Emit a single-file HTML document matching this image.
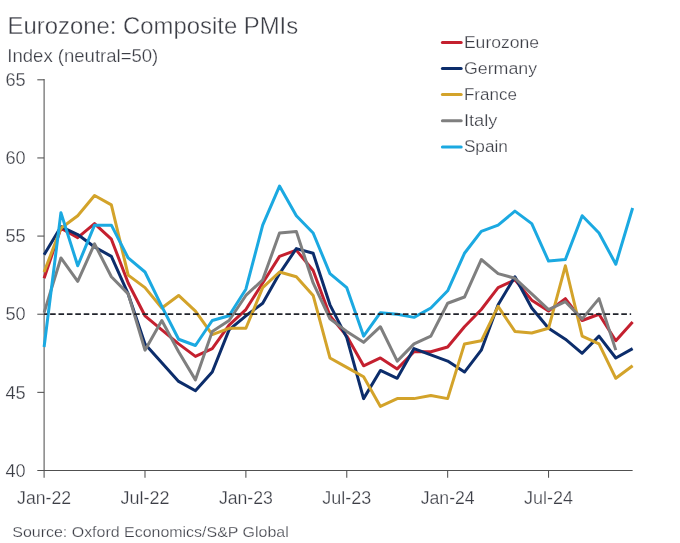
<!DOCTYPE html>
<html lang="en"><head><meta charset="utf-8"><title>Eurozone: Composite PMIs</title>
<style>html,body{margin:0;padding:0;background:#fff}body{width:680px;height:543px;overflow:hidden}</style></head>
<body>
<svg width="680" height="543" viewBox="0 0 680 543" style="display:block;font-family:'Liberation Sans',sans-serif">
<rect width="680" height="543" fill="#ffffff"/>
<g stroke="#505050" stroke-width="1.05" fill="none">
<path d="M44.1 79.10V477.70"/>
<path d="M37.30 470.50H632.63"/>
<path d="M37.30 79.80H44.1"/>
<path d="M37.30 157.94H44.1"/>
<path d="M37.30 236.08H44.1"/>
<path d="M37.30 314.22H44.1"/>
<path d="M37.30 392.36H44.1"/>
<path d="M144.99 470.50v7.2"/>
<path d="M245.88 470.50v7.2"/>
<path d="M346.77 470.50v7.2"/>
<path d="M447.66 470.50v7.2"/>
<path d="M548.55 470.50v7.2"/>
</g>
<polyline points="44.10,278.28 60.92,228.27 77.73,237.64 94.55,223.58 111.36,239.21 128.18,282.96 144.99,315.78 161.81,329.85 178.62,343.91 195.44,356.42 212.25,348.60 229.06,325.16 245.88,309.53 262.70,282.96 279.51,256.40 296.33,250.15 313.14,270.46 329.96,315.78 346.77,336.10 363.59,365.79 380.40,357.98 397.22,368.92 414.03,351.73 430.85,351.73 447.66,347.04 464.48,326.72 481.29,309.53 498.11,287.65 514.92,279.84 531.74,300.15 548.55,311.09 565.37,298.59 582.18,320.47 599.00,314.22 615.81,340.79 632.63,322.03" fill="none" stroke="#c4202f" stroke-width="3" stroke-linejoin="round" stroke-linecap="butt"/>
<polyline points="44.10,254.83 60.92,226.70 77.73,234.52 94.55,247.02 111.36,256.40 128.18,293.90 144.99,343.91 161.81,362.67 178.62,381.42 195.44,390.80 212.25,372.04 229.06,329.85 245.88,315.78 262.70,303.28 279.51,273.59 296.33,248.58 313.14,253.27 329.96,304.84 346.77,337.66 363.59,398.61 380.40,370.48 397.22,378.29 414.03,348.60 430.85,354.85 447.66,361.10 464.48,372.04 481.29,350.16 498.11,304.84 514.92,276.71 531.74,307.97 548.55,328.29 565.37,339.22 582.18,353.29 599.00,336.10 615.81,357.98 632.63,348.60" fill="none" stroke="#0c2d6b" stroke-width="3" stroke-linejoin="round" stroke-linecap="butt"/>
<polyline points="44.10,272.02 60.92,228.27 77.73,215.76 94.55,195.45 111.36,204.82 128.18,275.15 144.99,287.65 161.81,307.97 178.62,295.47 195.44,311.09 212.25,334.54 229.06,328.29 245.88,328.29 262.70,287.65 279.51,272.02 296.33,276.71 313.14,295.47 329.96,357.98 346.77,367.36 363.59,376.73 380.40,406.43 397.22,398.61 414.03,398.61 430.85,395.49 447.66,398.61 464.48,343.91 481.29,340.79 498.11,306.41 514.92,331.41 531.74,332.97 548.55,328.29 565.37,265.77 582.18,336.10 599.00,343.91 615.81,378.29 632.63,365.79" fill="none" stroke="#d3a32a" stroke-width="3" stroke-linejoin="round" stroke-linecap="butt"/>
<polyline points="44.10,312.66 60.92,257.96 77.73,281.40 94.55,243.89 111.36,276.71 128.18,293.90 144.99,350.16 161.81,320.47 178.62,351.73 195.44,379.86 212.25,331.41 229.06,320.47 245.88,295.47 262.70,279.84 279.51,232.95 296.33,231.39 313.14,282.96 329.96,318.91 346.77,331.41 363.59,342.35 380.40,326.72 397.22,361.10 414.03,343.91 430.85,336.10 447.66,303.28 464.48,297.03 481.29,259.52 498.11,273.59 514.92,278.28 531.74,293.90 548.55,309.53 565.37,301.72 582.18,318.91 599.00,298.59 615.81,350.16" fill="none" stroke="#7f7f7f" stroke-width="3" stroke-linejoin="round" stroke-linecap="butt"/>
<polyline points="44.10,347.04 60.92,212.64 77.73,265.77 94.55,225.14 111.36,225.14 128.18,257.96 144.99,272.02 161.81,306.41 178.62,339.22 195.44,345.48 212.25,320.47 229.06,315.78 245.88,289.22 262.70,225.14 279.51,186.07 296.33,215.76 313.14,232.95 329.96,273.59 346.77,287.65 363.59,336.10 380.40,312.66 397.22,314.22 414.03,317.35 430.85,307.97 447.66,290.78 464.48,253.27 481.29,231.39 498.11,225.14 514.92,211.08 531.74,223.58 548.55,261.08 565.37,259.52 582.18,215.76 599.00,232.95 615.81,264.21 632.63,207.95" fill="none" stroke="#1ba9e1" stroke-width="3" stroke-linejoin="round" stroke-linecap="butt"/>
<path d="M44.1 314.22H631.13" stroke="#20232b" stroke-width="1.8" stroke-dasharray="5.6 2.8" stroke-dashoffset="2.4" fill="none"/>
<text x="7.6" y="33.7" font-size="23.6" fill="#3c3e46" stroke="#fff" stroke-width="0.35" text-anchor="start" textLength="290.6" lengthAdjust="spacingAndGlyphs">Eurozone: Composite PMIs</text>
<text x="7.3" y="62" font-size="18.2" fill="#3c3e46" stroke="#fff" stroke-width="0.25" text-anchor="start" textLength="151" lengthAdjust="spacingAndGlyphs">Index (neutral=50)</text>
<text x="5.5" y="86.0" font-size="18.6" fill="#3c3e46" stroke="#fff" stroke-width="0.25" text-anchor="start" textLength="20.2" lengthAdjust="spacingAndGlyphs">65</text>
<text x="5.5" y="164.14" font-size="18.6" fill="#3c3e46" stroke="#fff" stroke-width="0.25" text-anchor="start" textLength="20.2" lengthAdjust="spacingAndGlyphs">60</text>
<text x="5.5" y="242.27999999999997" font-size="18.6" fill="#3c3e46" stroke="#fff" stroke-width="0.25" text-anchor="start" textLength="20.2" lengthAdjust="spacingAndGlyphs">55</text>
<text x="5.5" y="320.42" font-size="18.6" fill="#3c3e46" stroke="#fff" stroke-width="0.25" text-anchor="start" textLength="20.2" lengthAdjust="spacingAndGlyphs">50</text>
<text x="5.5" y="398.56" font-size="18.6" fill="#3c3e46" stroke="#fff" stroke-width="0.25" text-anchor="start" textLength="20.2" lengthAdjust="spacingAndGlyphs">45</text>
<text x="5.5" y="476.7" font-size="18.6" fill="#3c3e46" stroke="#fff" stroke-width="0.25" text-anchor="start" textLength="20.2" lengthAdjust="spacingAndGlyphs">40</text>
<text x="17.1" y="503.5" font-size="18" fill="#3c3e46" stroke="#fff" stroke-width="0.25" text-anchor="start" textLength="54" lengthAdjust="spacingAndGlyphs">Jan-22</text>
<text x="120.49000000000001" y="503.5" font-size="18" fill="#3c3e46" stroke="#fff" stroke-width="0.25" text-anchor="start" textLength="49" lengthAdjust="spacingAndGlyphs">Jul-22</text>
<text x="218.88000000000002" y="503.5" font-size="18" fill="#3c3e46" stroke="#fff" stroke-width="0.25" text-anchor="start" textLength="54" lengthAdjust="spacingAndGlyphs">Jan-23</text>
<text x="322.27000000000004" y="503.5" font-size="18" fill="#3c3e46" stroke="#fff" stroke-width="0.25" text-anchor="start" textLength="49" lengthAdjust="spacingAndGlyphs">Jul-23</text>
<text x="420.6600000000001" y="503.5" font-size="18" fill="#3c3e46" stroke="#fff" stroke-width="0.25" text-anchor="start" textLength="54" lengthAdjust="spacingAndGlyphs">Jan-24</text>
<text x="524.0500000000001" y="503.5" font-size="18" fill="#3c3e46" stroke="#fff" stroke-width="0.25" text-anchor="start" textLength="49" lengthAdjust="spacingAndGlyphs">Jul-24</text>
<text x="12.3" y="537" font-size="15.4" fill="#3c3e46" stroke="#fff" stroke-width="0.25" text-anchor="start" textLength="276.4" lengthAdjust="spacingAndGlyphs">Source: Oxford Economics/S&amp;P Global</text>
<path d="M442.4 42.5H461.2" stroke="#c4202f" stroke-width="3" stroke-linecap="round"/>
<text x="463.9" y="48.0" font-size="17.2" fill="#3c3e46" stroke="#fff" stroke-width="0.25" text-anchor="start" textLength="75.2" lengthAdjust="spacingAndGlyphs">Eurozone</text>
<path d="M442.4 68.5H461.2" stroke="#0c2d6b" stroke-width="3" stroke-linecap="round"/>
<text x="463.9" y="74.0" font-size="17.2" fill="#3c3e46" stroke="#fff" stroke-width="0.25" text-anchor="start" textLength="73.2" lengthAdjust="spacingAndGlyphs">Germany</text>
<path d="M442.4 94.60000000000001H461.2" stroke="#d3a32a" stroke-width="3" stroke-linecap="round"/>
<text x="463.9" y="100.10000000000001" font-size="17.2" fill="#3c3e46" stroke="#fff" stroke-width="0.25" text-anchor="start" textLength="53" lengthAdjust="spacingAndGlyphs">France</text>
<path d="M442.4 120.80000000000001H461.2" stroke="#7f7f7f" stroke-width="3" stroke-linecap="round"/>
<text x="463.9" y="126.30000000000001" font-size="17.2" fill="#3c3e46" stroke="#fff" stroke-width="0.25" text-anchor="start" textLength="33.5" lengthAdjust="spacingAndGlyphs">Italy</text>
<path d="M442.4 146.9H461.2" stroke="#1ba9e1" stroke-width="3" stroke-linecap="round"/>
<text x="463.9" y="152.4" font-size="17.2" fill="#3c3e46" stroke="#fff" stroke-width="0.25" text-anchor="start" textLength="44" lengthAdjust="spacingAndGlyphs">Spain</text>
</svg>
</body></html>
